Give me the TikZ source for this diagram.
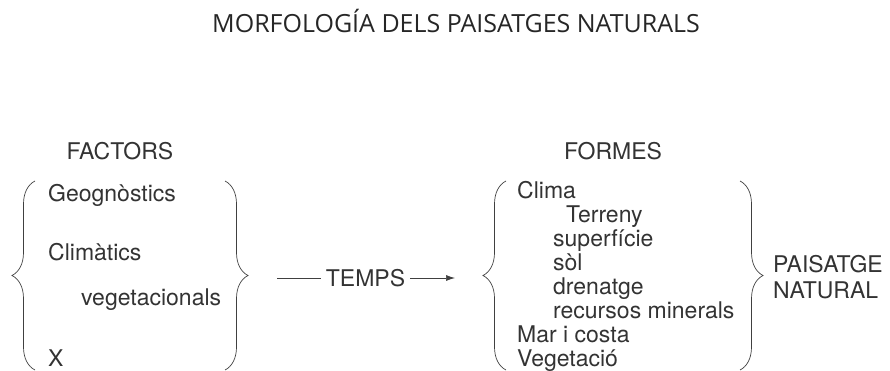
\documentclass[tikz,border=0pt]{standalone}
\usepackage{fontspec}
\setmainfont{TeX Gyre Heros}
\newfontfamily\titlefont{Open Sans}
\usetikzlibrary{decorations.pathreplacing, arrows.meta}

\begin{document}
\begin{tikzpicture}[x=1pt,y=-1pt,>={Latex[length=9pt,width=6pt]},
    txt/.style={anchor=base west, inner sep=0pt, font=\fontsize{23}{24}\selectfont, text=black!80},
    curly/.style={decorate, decoration={brace, amplitude=23pt}, draw=black!75, line width=0.7pt}]
  % fix the size of the page
  \useasboundingbox (0,0) rectangle (890,371);

  % the title
  \node[anchor=base, inner sep=0pt, font=\titlefont\fontsize{25}{30}\selectfont, text=black!85] (title) at (456,33)
        {MORFOLOGÍA DELS PAISATGES NATURALS};

  % the column heads
  \node[txt, anchor=base] (factors) at (120,160) {FACTORS};
  \node[txt, anchor=base] (formes)  at (613,160) {FORMES};

  % the factors and their brace
  \draw[curly] (35,370) -- (35,181);
  \node[txt] (geo)  at (48,201) {Geognòstics};
  \node[txt] (clim) at (48,260) {Climàtics};
  \node[txt] (veg)  at (81,305) {vegetacionals};
  \node[txt] (x)    at (48,366.5) {X};
  \draw[curly] (225,181) -- (225,370);

  % time takes the factors to the forms
  \coordinate (t0) at (277,278);
  \coordinate (t1) at (455,278);
  \node[txt, anchor=center, inner xsep=5pt] (temps) at (365.5,278) {TEMPS};
  \draw[line width=0.7pt, black!75] (t0) -- (temps);
  \draw[->, line width=0.7pt, black!75] (temps) -- (t1);

  % the forms and their brace
  \draw[curly] (506,370) -- (506,181);
  \node[txt] (clima) at (517,199)   {Clima};
  \node[txt] (terr)  at (566,222.9) {Terreny};
  \node[txt] (sup)   at (553,246.8) {superfície};
  \node[txt] (sol)   at (553,270.7) {sòl};
  \node[txt] (dren)  at (553,294.6) {drenatge};
  \node[txt] (rec)   at (553,318.5) {recursos minerals};
  \node[txt] (mar)   at (517,342.4) {Mar i costa};
  \node[txt] (vege)  at (517,366.3) {Vegetació};
  \draw[curly] (740,181) -- (740,370);

  % what comes out
  \node[txt] (pais) at (773,272) {PAISATGE};
  \node[txt] (nat)  at (773,298) {NATURAL};
\end{tikzpicture}
\end{document}
